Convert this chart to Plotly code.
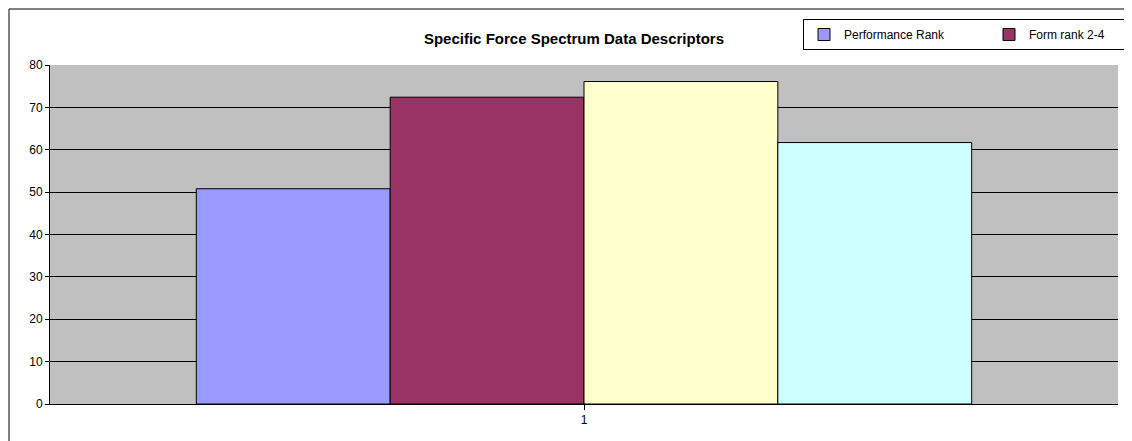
import plotly.graph_objects as go

categories = ["1"]
series_names = ["Performance Rank", "Form rank 2-4", "Form rank 3-4", "Freq. Compensated"]
series_values = [[50.8], [72.4], [76.1], [61.7]]
colors = ["#9999FF", "#993366", "#FFFFCC", "#CCFFFF"]

fig = go.Figure()
for n, v, c in zip(series_names, series_values, colors):
    fig.add_trace(go.Bar(x=categories, y=v, name=n, marker=dict(color=c, line=dict(color="black", width=1))))

W, H, l, r, t, b = 1132, 441, 42, 22, 57, 45
pw, ph = W - l - r, H - t - b
fig.update_layout(
    width=W, height=H, margin=dict(l=l, r=r, t=t, b=b, autoexpand=False),
    paper_bgcolor="white", plot_bgcolor="#C0C0C0",
    barmode="group", bargap=0.274, bargroupgap=0,
    font=dict(family="Arial", size=12, color="black"),
    title=dict(text="<b>Specific Force Spectrum Data Descriptors</b>", x=566 / W, xanchor="center",
               y=1 - 31 / H, yanchor="middle", font=dict(size=15)),
    legend=dict(orientation="h", x=(795 - l) / pw, y=(H - b - 11) / ph, xanchor="left", yanchor="top",
                entrywidth=140, bordercolor="black", borderwidth=1, bgcolor="white",
                font=dict(size=12), traceorder="normal", itemwidth=30, tracegroupgap=0),
    xaxis=dict(type="category", showline=True, linecolor="black", ticks="outside", ticklen=5,
               tickcolor="black", mirror=False),
    yaxis=dict(range=[0, 80], dtick=10, showgrid=True, gridcolor="black", gridwidth=1,
               showline=True, linecolor="black", ticks="outside", ticklen=4, tickcolor="black", zeroline=False),
    shapes=[dict(type="rect", xref="paper", yref="paper",
                 x0=(1 - l) / pw, x1=(1130 - l) / pw, y0=(H - b - 438) / ph, y1=(H - b - 1) / ph,
                 line=dict(color="black", width=1), layer="below")],
)
fig.write_html("out.html")
